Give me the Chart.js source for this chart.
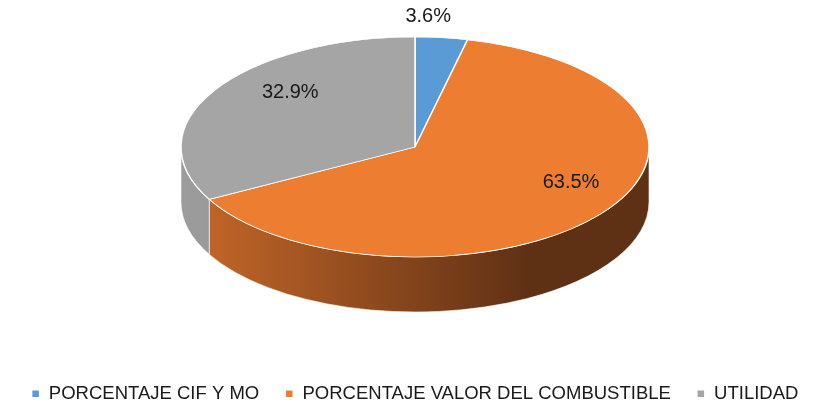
<!DOCTYPE html>
<html lang="es">
<head>
<meta charset="utf-8" />
<script src="https://cdn.jsdelivr.net/npm/chart.js@4/dist/chart.umd.min.js"></script>
<style>body{margin:0;background:#fff}</style>
<title>Distribución de costos</title>
</head>
<body>
<canvas id="miGrafico" width="830" height="407"></canvas>
<script>
const categorias = ["PORCENTAJE CIF Y MO", "PORCENTAJE VALOR DEL COMBUSTIBLE", "UTILIDAD"];
const porcentajes = [3.6, 63.5, 32.9];
const colores = ["#5B9BD5", "#ED7D31", "#A5A5A5"];
const coloresLado = [["#4A7FAF", "#2E5273"], ["#C8692A", "#5E3014"], ["#9C9C9C", "#7A7A7A"]];

const radioX = 234, radioY = 110, grosor = 55;

// dibuja el pastel "en 3D": aplasta la cara superior y agrega el borde frontal
const pastel3d = {
    id: "pastel3d",
    beforeDatasetsDraw(chart) {
        const ctx = chart.ctx;
        const arcos = chart.getDatasetMeta(0).data;
        const cx = arcos[0].x;
        const cy = chart.chartArea.top + radioY;
        arcos.forEach((arco, i) => {
            const a0 = Math.max(arco.startAngle, 0);
            const a1 = Math.min(arco.endAngle, Math.PI);
            if (a1 <= a0) return;
            const g = ctx.createLinearGradient(cx - radioX, 0, cx + radioX, 0);
            g.addColorStop(0, coloresLado[i][0]);
            g.addColorStop(0.75, coloresLado[i][1]);
            g.addColorStop(1, coloresLado[i][1]);
            ctx.save();
            ctx.beginPath();
            ctx.ellipse(cx, cy, radioX, radioY, 0, a0, a1);
            ctx.ellipse(cx, cy + grosor, radioX, radioY, 0, a1, a0, true);
            ctx.closePath();
            ctx.fillStyle = g;
            ctx.fill();
            ctx.strokeStyle = "rgba(255,255,255,0.6)";
            ctx.lineWidth = 1;
            ctx.stroke();
            ctx.restore();
        });
        ctx.save();
        ctx.translate(cx, cy);
        ctx.scale(1, radioY / radioX);
        ctx.translate(-arcos[0].x, -arcos[0].y);
    },
    afterDatasetsDraw(chart) {
        const ctx = chart.ctx;
        ctx.restore();
        const arcos = chart.getDatasetMeta(0).data;
        const cx = arcos[0].x;
        const cy = chart.chartArea.top + radioY;
        ctx.save();
        ctx.font = "20px 'Liberation Sans'";
        ctx.fillStyle = "#1a1a1a";
        ctx.textAlign = "center";
        ctx.textBaseline = "middle";
        arcos.forEach((arco, i) => {
            const medio = (arco.startAngle + arco.endAngle) / 2;
            const c = Math.cos(medio), s = Math.sin(medio);
            let x, y;
            if (porcentajes[i] < 5) {
                x = cx + radioX * c * 0.5;
                y = chart.chartArea.top - 21;
            } else {
                const p = 0.72 * (1 + 0.27 * s); // perspectiva aproximada
                x = cx + radioX * c * p;
                y = cy - 20 + radioY * s * p;
            }
            ctx.fillText(porcentajes[i].toFixed(1) + "%", x, y);
        });
        ctx.restore();
    }
};

new Chart(document.getElementById("miGrafico").getContext("2d"), {
    type: "pie",
    data: {
        labels: categorias,
        datasets: [{
            data: porcentajes,
            backgroundColor: colores,
            borderColor: "#ffffff",
            borderWidth: 1.5,
            radius: radioX
        }]
    },
    options: {
        responsive: false,
        animation: false,
        layout: { padding: { top: 37, bottom: -6 } },
        plugins: {
            legend: {
                position: "bottom",
                labels: {
                    usePointStyle: true,
                    pointStyle: "rect",
                    boxWidth: 8,
                    boxHeight: 8,
                    padding: 26,
                    color: "#1a1a1a",
                    font: { family: "Liberation Sans", size: 18.5 }
                }
            },
            tooltip: { enabled: false }
        }
    },
    plugins: [pastel3d]
});
</script>
</body>
</html>
